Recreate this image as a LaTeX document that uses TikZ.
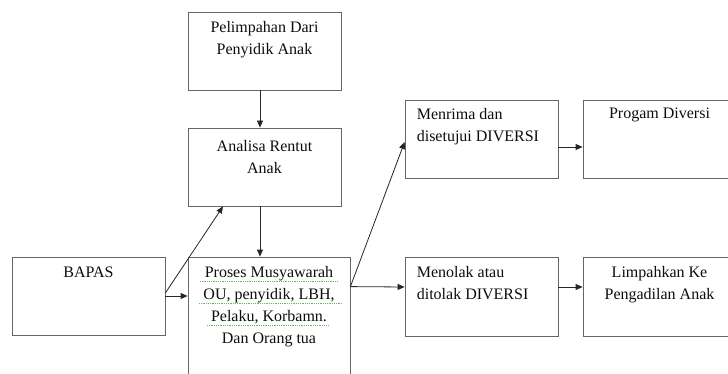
\documentclass[tikz,border=0pt]{standalone}
\usepackage{fontspec}
\setmainfont{Liberation Serif}
\usetikzlibrary{arrows.meta,positioning}

\definecolor{spellgreen}{RGB}{100,185,100}

\tikzset{
  box/.style={draw=black!60, line width=0.8pt, minimum width=153, minimum height=78, inner sep=0pt},
  txt/.style={anchor=north, align=center, inner sep=0pt, text=black!95, font=\fontsize{16}{21.7}\selectfont},
  ltxt/.style={txt, align=left},
  arr/.style={-{Triangle[length=7pt,width=6pt]}, line width=0.8pt, black!85},
  squiggle/.style={spellgreen, densely dotted, line width=0.8pt},
}

\begin{document}
\begin{tikzpicture}[x=1pt,y=-1pt]
  \useasboundingbox (0,0) rectangle (728,374);
  \clip (0,0) rectangle (728,374);

  \node[box] (pelimpahan) at (264.5,51) {};
  \node[box] (analisa) at (264.5,167) {};
  \node[box] (bapas) at (88.5,296) {};
  \node[box, minimum width=162, minimum height=160] (proses) at (269,337) {};
  \node[box] (menrima) at (481.5,139) {};
  \node[box] (progam) at (659.5,139) {};
  \node[box, minimum height=79] (menolak) at (481.5,296.5) {};
  \node[box, minimum height=79] (limpahkan) at (659.5,296.5) {};

  \node[txt, below=10pt of pelimpahan.north] (pelimpahan text) {Pelimpahan Dari\\Penyidik Anak};
  \node[txt, below=13pt of analisa.north] (analisa text) {Analisa Rentut\\Anak};
  \node[txt, below=10pt of bapas.north] (bapas text) {BAPAS};
  \node[txt, below=10pt of proses.north] (proses text) {Proses Musyawarah\\OU, penyidik, LBH,\\Pelaku, Korbamn.\\Dan Orang tua};
  \node[ltxt, below right=9pt and 12pt of menrima.north west] (menrima text) {Menrima dan\\disetujui DIVERSI};
  \node[txt, below=8pt of progam.north] (progam text) {Progam Diversi};
  \node[ltxt, below right=10pt and 12pt of menolak.north west] (menolak text) {Menolak atau\\ditolak DIVERSI};
  \node[txt, below=10pt of limpahkan.north] (limpahkan text) {Limpahkan Ke\\Pengadilan Anak};

  \foreach \y/\a/\b in {281/200/338, 303/199/342, 325/207/328}
    \draw[squiggle] (\a,\y) -- (\b,\y);

  \draw[arr] ([xshift=-4.5]pelimpahan.south) -- ([xshift=-4.5]analisa.north);
  \draw[arr] ([xshift=-4.5]analisa.south) -- ([xshift=-9]proses.north);
  \draw[arr] (bapas.east) -- (bapas.east -| proses.west);
  \draw[arr] ([yshift=3]bapas.east) -- ([xshift=-41.5]analisa.south);
  \draw[arr] ([yshift=-30]proses.north east) -- ([yshift=-3]menrima.west);
  \draw[arr] ([yshift=-30]proses.north east) -- ([yshift=9.5]menolak.west);
  \draw[arr] ([yshift=-8]menrima.east) -- ([yshift=-8]progam.west);
  \draw[arr] ([yshift=9.5]menolak.east) -- ([yshift=9.5]limpahkan.west);
\end{tikzpicture}
\end{document}
